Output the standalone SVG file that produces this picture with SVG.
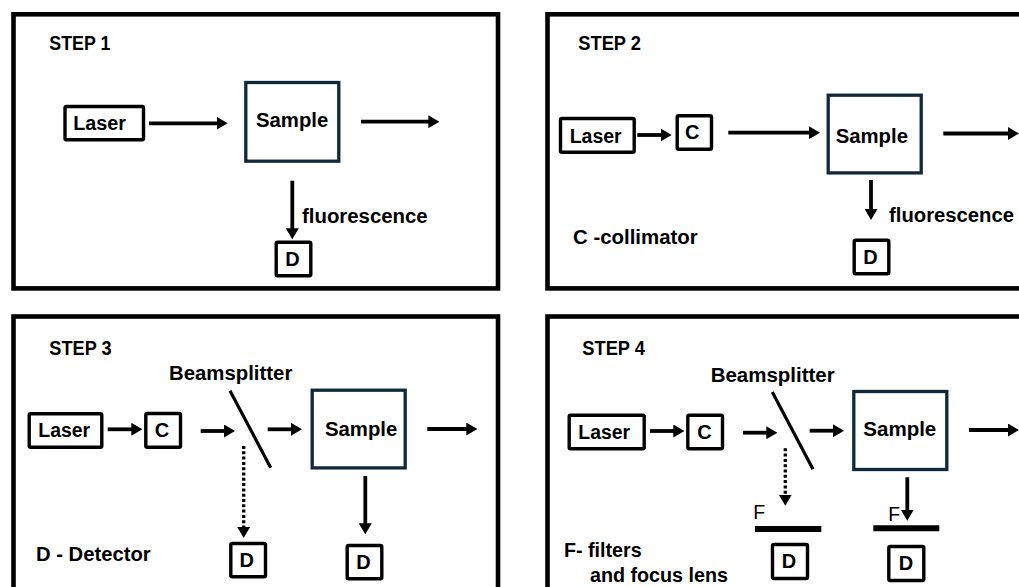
<svg xmlns="http://www.w3.org/2000/svg" width="1019" height="587" viewBox="0 0 1019 587">
<defs>
<marker id="ah" markerUnits="userSpaceOnUse" markerWidth="11" markerHeight="13" refX="4" refY="6.5" orient="auto">
<path d="M0,0 L11,6.5 L0,13 Z" fill="#000"/>
</marker>
<style>
.frame{fill:none;stroke:#000;stroke-width:4.6}
.box{fill:#fff;stroke:#000;stroke-width:3.4}
.sample{fill:#fff;stroke:#10293a;stroke-width:3.3}
.t{font-family:"Liberation Sans",Arial,sans-serif;font-weight:bold;font-size:20px;fill:#000}
.r{font-family:"Liberation Sans",Arial,sans-serif;font-weight:normal;font-size:19.5px;fill:#000}
.c{text-anchor:middle}
.arr{stroke:#000;stroke-width:3.8;fill:none;marker-end:url(#ah)}
.dot{stroke:#000;stroke-width:3.3;fill:none;stroke-dasharray:3 2.3;marker-end:url(#ah)}
.bs{stroke:#000;stroke-width:3.2;fill:none}
.bar{stroke:#000;stroke-width:6;fill:none}
</style>
</defs>
<rect width="1019" height="587" fill="#fff"/>

<g id="frames">
<rect class="frame" x="13.5" y="14.3" width="484.5" height="274.1"/>
<rect class="frame" x="547.5" y="14.3" width="490" height="274.1"/>
<rect class="frame" x="13.5" y="316.5" width="484.5" height="300"/>
<rect class="frame" x="547.5" y="316.5" width="490" height="300"/>
</g>

<g id="labels">
<text class="t" x="49.3" y="50" textLength="61" lengthAdjust="spacingAndGlyphs">STEP 1</text>
<text class="t" x="302" y="222.7" textLength="125.7" lengthAdjust="spacingAndGlyphs">fluorescence</text>
<text class="t" x="578.3" y="50" textLength="62.7" lengthAdjust="spacingAndGlyphs">STEP 2</text>
<text class="t" x="889" y="221.7" textLength="125" lengthAdjust="spacingAndGlyphs">fluorescence</text>
<text class="t" x="573" y="244" textLength="124.7" lengthAdjust="spacingAndGlyphs">C -collimator</text>
<text class="t" x="49.3" y="355" textLength="62.3" lengthAdjust="spacingAndGlyphs">STEP 3</text>
<text class="t" x="169" y="380" textLength="123.3" lengthAdjust="spacingAndGlyphs">Beamsplitter</text>
<text class="t" x="36" y="560.7" textLength="114.7" lengthAdjust="spacingAndGlyphs">D - Detector</text>
<text class="t" x="582.3" y="355" textLength="62.7" lengthAdjust="spacingAndGlyphs">STEP 4</text>
<text class="t" x="710.7" y="381.7" textLength="124" lengthAdjust="spacingAndGlyphs">Beamsplitter</text>
<text class="r" x="753.3" y="519.3">F</text>
<text class="r" x="888.3" y="520.7">F</text>
<text class="t" x="564" y="556.7" textLength="77.7" lengthAdjust="spacingAndGlyphs">F- filters</text>
<text class="t" x="590" y="581.7" textLength="138" lengthAdjust="spacingAndGlyphs">and focus lens</text>
</g>

<g id="s1-laser"><rect class="box" x="65" y="106.5" width="78.5" height="33.3" rx="1.5"/><text class="t" x="73.3" y="130" textLength="52.7" lengthAdjust="spacingAndGlyphs">Laser</text></g>
<g id="s1-sample"><rect class="sample" x="245.8" y="82.5" width="93" height="78.7"/><text class="t" x="256" y="127.3" textLength="72.3" lengthAdjust="spacingAndGlyphs">Sample</text></g>
<g id="s1-d"><rect class="box" x="276.2" y="242.2" width="34.6" height="33.6" rx="1.5"/><text class="t c" x="292.5" y="266">D</text></g>

<g id="s2-laser"><rect class="box" x="560.5" y="118.5" width="73.7" height="33.7" rx="1.5"/><text class="t" x="569.7" y="142.7" textLength="52" lengthAdjust="spacingAndGlyphs">Laser</text></g>
<g id="s2-c"><rect class="box" x="677.2" y="115.8" width="34.3" height="33.4" rx="1.5"/><text class="t c" x="692.3" y="139.3">C</text></g>
<g id="s2-sample"><rect class="sample" x="828.2" y="95.2" width="93" height="77.7"/><text class="t" x="835.7" y="142.7" textLength="72.3" lengthAdjust="spacingAndGlyphs">Sample</text></g>
<g id="s2-d"><rect class="box" x="854.2" y="240.2" width="34.6" height="33.6" rx="1.5"/><text class="t c" x="870.5" y="264">D</text></g>

<g id="s3-laser"><rect class="box" x="29.2" y="413.8" width="72.6" height="33.4" rx="1.5"/><text class="t" x="38.3" y="437.3" textLength="51.7" lengthAdjust="spacingAndGlyphs">Laser</text></g>
<g id="s3-c"><rect class="box" x="145.8" y="413.5" width="34.7" height="33.7" rx="1.5"/><text class="t c" x="162" y="436.7">C</text></g>
<g id="s3-bs"><line class="bs" x1="230" y1="390.7" x2="270.7" y2="467.7"/></g>
<g id="s3-sample"><rect class="sample" x="312.2" y="390.2" width="93" height="77.7"/><text class="t" x="325" y="436" textLength="72.3" lengthAdjust="spacingAndGlyphs">Sample</text></g>
<g id="s3-d1"><rect class="box" x="230.8" y="543.5" width="34.7" height="33.3" rx="1.5"/><text class="t c" x="246.7" y="566.7">D</text></g>
<g id="s3-d2"><rect class="box" x="347.2" y="545.5" width="34.6" height="33.3" rx="1.5"/><text class="t c" x="363.5" y="568.7">D</text></g>

<g id="s4-laser"><rect class="box" x="569.2" y="415.2" width="75" height="33.6" rx="1.5"/><text class="t" x="578.3" y="439.3" textLength="51.7" lengthAdjust="spacingAndGlyphs">Laser</text></g>
<g id="s4-c"><rect class="box" x="687.8" y="415.2" width="34.7" height="33.6" rx="1.5"/><text class="t c" x="704.5" y="438.7">C</text></g>
<g id="s4-bs"><line class="bs" x1="772.3" y1="392" x2="813" y2="469.3"/></g>
<g id="s4-sample"><rect class="sample" x="853.8" y="391.5" width="93" height="78"/><text class="t" x="863.3" y="436" textLength="73" lengthAdjust="spacingAndGlyphs">Sample</text></g>
<g id="s4-f1"><line class="bar" x1="755" y1="529" x2="821.3" y2="529"/></g>
<g id="s4-f2"><line class="bar" x1="873.3" y1="528.2" x2="939.3" y2="528.2"/></g>
<g id="s4-d1"><rect class="box" x="772.5" y="544.5" width="35" height="34" rx="1.5"/><text class="t c" x="789" y="567.7">D</text></g>
<g id="s4-d2"><rect class="box" x="888.8" y="546.5" width="35" height="34" rx="1.5"/><text class="t c" x="906" y="570">D</text></g>

<g id="connectors">
<line class="arr" x1="149" y1="123.3" x2="220.7" y2="123.3"/>
<line class="arr" x1="361" y1="121.7" x2="432.3" y2="121.7"/>
<line class="arr" x1="292.3" y1="180.7" x2="292.3" y2="232.3"/>
<line class="arr" x1="637.3" y1="135" x2="664.7" y2="135"/>
<line class="arr" x1="728.3" y1="132.7" x2="813" y2="132.7"/>
<line class="arr" x1="943.3" y1="133.5" x2="1012" y2="133.5"/>
<line class="arr" x1="871" y1="180" x2="871" y2="213"/>
<line class="arr" x1="107.7" y1="429.3" x2="135.3" y2="429.3"/>
<line class="arr" x1="200.7" y1="431" x2="228" y2="431"/>
<line class="arr" x1="267.7" y1="429.3" x2="295" y2="429.3"/>
<line class="arr" x1="427.3" y1="429" x2="470.3" y2="429"/>
<line class="dot" x1="243.7" y1="446" x2="243.7" y2="531"/>
<line class="arr" x1="365.3" y1="476" x2="365.3" y2="527.3"/>
<line class="arr" x1="650" y1="431" x2="677.3" y2="431"/>
<line class="arr" x1="743" y1="432.7" x2="770.3" y2="432.7"/>
<line class="arr" x1="809.7" y1="430.7" x2="837" y2="430.7"/>
<line class="arr" x1="969" y1="430" x2="1012" y2="430"/>
<line class="dot" x1="785.3" y1="448.3" x2="785.3" y2="498.7"/>
<line class="arr" x1="907.3" y1="477.3" x2="907.3" y2="513.7"/>
</g>
</svg>
